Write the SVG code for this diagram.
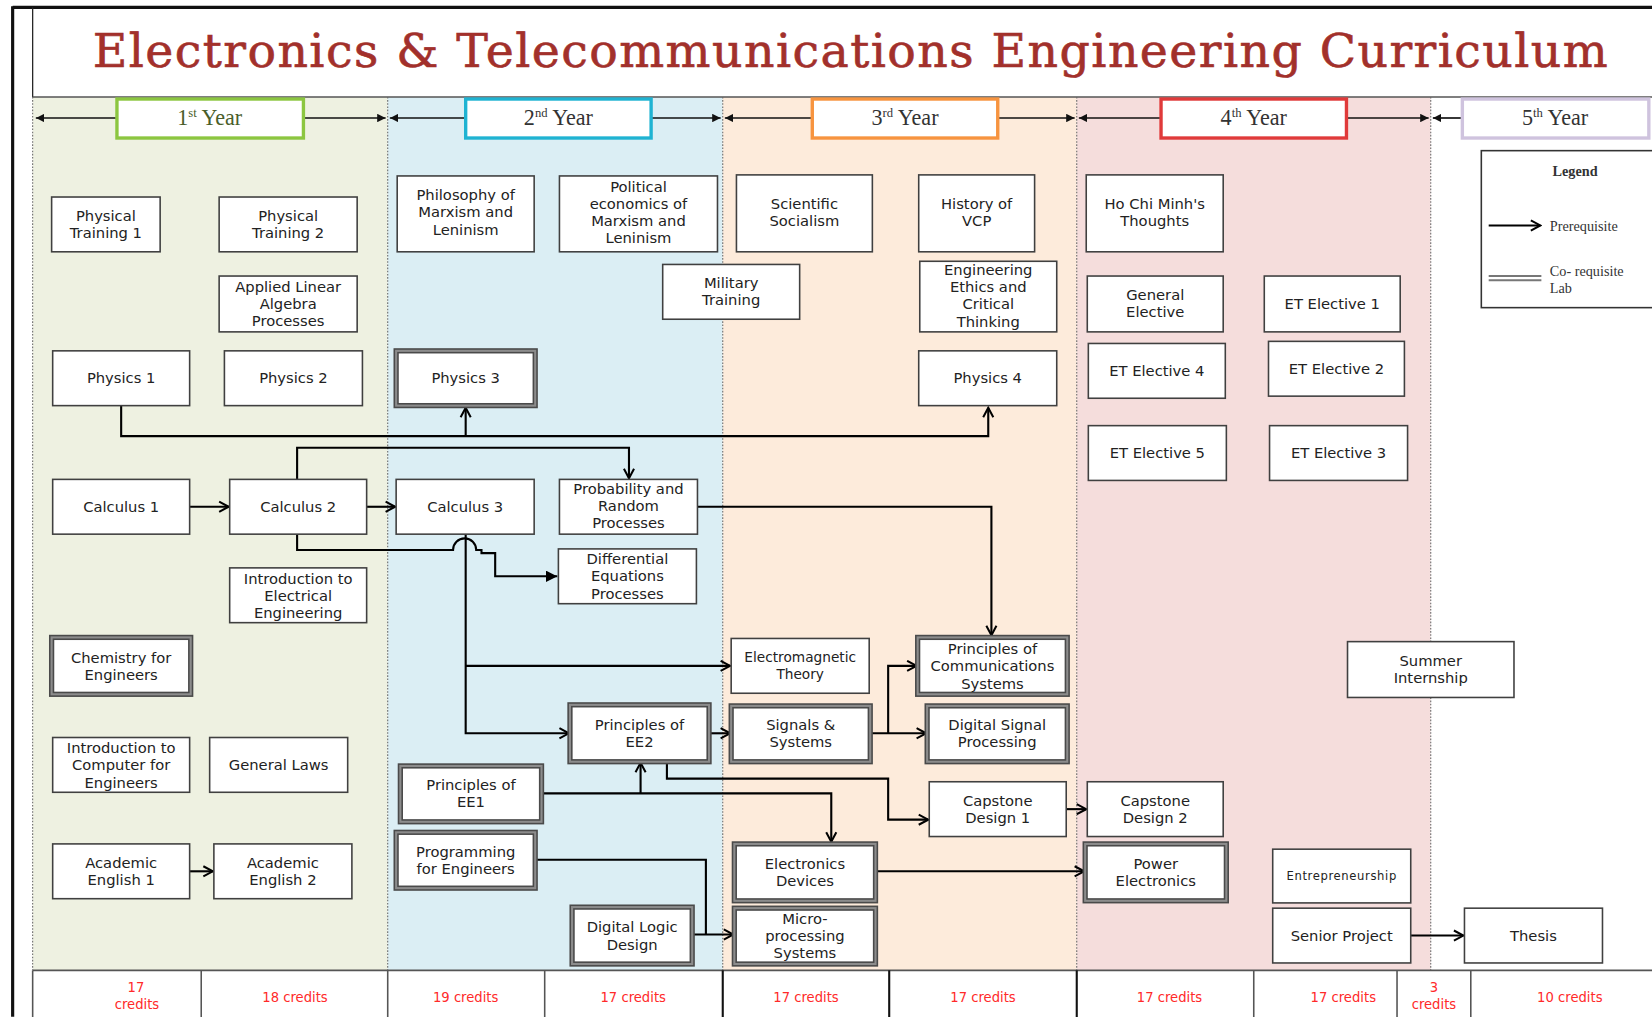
<svg xmlns="http://www.w3.org/2000/svg" width="1652" height="1017" viewBox="0 0 1652 1017">
  <style>
    .node rect { fill: #ffffff; stroke: #404040; stroke-width: 1.5; }
    .lab rect.o { fill: #ffffff; stroke: #4a4a4a; stroke-width: 5; }
    .lab rect.i { fill: none; stroke: #8c8c8c; stroke-width: 2; }
    .node text, .lab text { font-family: "DejaVu Sans", Verdana, sans-serif; font-size: 14px; fill: #222; text-anchor: middle; }
    .conn path { fill: none; stroke: #000; stroke-width: 2; }
    .hdr path { fill: none; stroke: #111; stroke-width: 1.6; }
    .yearbox { fill: #ffffff; stroke-width: 3.2; }
    .yeartxt { font-family: "Liberation Serif", "Times New Roman", serif; font-size: 21px; fill: #333; text-anchor: middle; }
    .sup { font-size: 12px; }
    .sep { stroke: #666; stroke-width: 1; stroke-dasharray: 1.5 1.5; }
    .cr { font-family: "DejaVu Sans", Verdana, sans-serif; font-size: 12.5px; fill: #ff2a2a; text-anchor: middle; }
    .crline { stroke: #555; stroke-width: 1.5; }
    .crline.k { stroke: #111; stroke-width: 2; }
    .leg { font-family: "Liberation Serif", "Times New Roman", serif; font-size: 13.5px; fill: #333; }
  </style>
  <defs>
    <marker id="open" viewBox="0 0 10 10" refX="9" refY="5" markerWidth="6" markerHeight="6" orient="auto">
      <path d="M1.5,1 L9,5 L1.5,9" fill="none" stroke="#000" stroke-width="1.6"/>
    </marker>
    <marker id="fill" viewBox="0 0 10 10" refX="10" refY="5" markerWidth="5.5" markerHeight="5.5" orient="auto">
      <path d="M0,0 L10,5 L0,10 z" fill="#000"/>
    </marker>
    <marker id="tri" viewBox="0 0 10 10" refX="10" refY="5" markerWidth="5" markerHeight="5" orient="auto">
      <path d="M0,0 L10,5 L0,10 z" fill="#111"/>
    </marker>
  </defs>

  <g transform="scale(1.05357)">
    <!-- year column backgrounds -->
    <rect x="31" y="92" width="337" height="829" fill="#eef1e1"/>
    <rect x="368" y="92" width="318" height="829" fill="#dbeef4"/>
    <rect x="686" y="92" width="336" height="829" fill="#fdebdb"/>
    <rect x="1022" y="92" width="336" height="829" fill="#f5dddc"/>
    <rect x="1358" y="92" width="210" height="829" fill="#ffffff"/>

    <!-- frame and title area -->
    <line x1="12" y1="7" x2="1568" y2="7" stroke="#111" stroke-width="3"/>
    <line x1="12" y1="6" x2="12" y2="965" stroke="#111" stroke-width="3"/>
    <line x1="31" y1="7" x2="31" y2="92" stroke="#222" stroke-width="1.2"/>
    <line x1="31" y1="92" x2="1568" y2="92" stroke="#555" stroke-width="1.5"/>
    <text x="88" y="64" textLength="1438" lengthAdjust="spacing" font-family="DejaVu Serif, 'Liberation Serif', serif" font-size="45" fill="#a2302b" stroke="#a2302b" stroke-width="0.6">Electronics &amp; Telecommunications Engineering Curriculum</text>

    <!-- column separators -->
    <line class="sep" x1="31" y1="92" x2="31" y2="921"/>
    <line class="sep" x1="368" y1="92" x2="368" y2="921"/>
    <line class="sep" x1="686" y1="92" x2="686" y2="921"/>
    <line class="sep" x1="1022" y1="92" x2="1022" y2="921"/>
    <line class="sep" x1="1358" y1="92" x2="1358" y2="921"/>

    <!-- year headers -->
    <g id="year-headers">
      <g class="hdr">
        <path d="M110,112 H34" marker-end="url(#tri)"/>
        <path d="M288,112 H366" marker-end="url(#tri)"/>
        <path d="M441,112 H370" marker-end="url(#tri)"/>
        <path d="M618,112 H684" marker-end="url(#tri)"/>
        <path d="M770,112 H688" marker-end="url(#tri)"/>
        <path d="M947,112 H1020" marker-end="url(#tri)"/>
        <path d="M1101,112 H1024" marker-end="url(#tri)"/>
        <path d="M1278,112 H1356" marker-end="url(#tri)"/>
        <path d="M1387,112 H1360" marker-end="url(#tri)"/>
      </g>
      <rect class="yearbox" x="111" y="94" width="177" height="37" stroke="#8cc640"/>
      <text class="yeartxt" x="199" y="119" style="fill:#4a5e2a">1<tspan class="sup" dy="-8">st</tspan><tspan dy="8"> Year</tspan></text>
      <rect class="yearbox" x="442" y="94" width="176" height="37" stroke="#1fb3d2"/>
      <text class="yeartxt" x="530" y="119">2<tspan class="sup" dy="-8">nd</tspan><tspan dy="8"> Year</tspan></text>
      <rect class="yearbox" x="771" y="94" width="176" height="37" stroke="#f7943f"/>
      <text class="yeartxt" x="859" y="119">3<tspan class="sup" dy="-8">rd</tspan><tspan dy="8"> Year</tspan></text>
      <rect class="yearbox" x="1102" y="94" width="176" height="37" stroke="#e03a3a"/>
      <text class="yeartxt" x="1190" y="119">4<tspan class="sup" dy="-8">th</tspan><tspan dy="8"> Year</tspan></text>
      <rect class="yearbox" x="1388" y="94" width="177" height="37" stroke="#cfc3de"/>
      <text class="yeartxt" x="1476" y="119">5<tspan class="sup" dy="-8">th</tspan><tspan dy="8"> Year</tspan></text>
    </g>

    <!-- legend -->
    <g id="legend">
      <rect x="1406" y="143" width="175" height="149" fill="#fff" stroke="#333" stroke-width="1.5"/>
      <text class="leg" x="1495" y="167" text-anchor="middle" font-weight="bold">Legend</text>
      <path d="M1413,214 H1462" stroke="#000" stroke-width="2" fill="none" marker-end="url(#open)"/>
      <text class="leg" x="1471" y="219">Prerequisite</text>
      <line x1="1413" y1="262" x2="1463" y2="262" stroke="#777" stroke-width="2"/>
      <line x1="1413" y1="266" x2="1463" y2="266" stroke="#777" stroke-width="2"/>
      <text class="leg" x="1471" y="262">Co- requisite</text>
      <text class="leg" x="1471" y="278">Lab</text>
    </g>

    <!-- credits row -->
    <g id="credits">
      <rect x="31" y="921" width="1537" height="50" fill="#fff"/>
      <line class="crline" x1="31" y1="921" x2="1568" y2="921"/>
      <line class="crline" x1="31" y1="921" x2="31" y2="970"/>
      <line class="crline" x1="191" y1="921" x2="191" y2="970"/>
      <line class="crline" x1="368" y1="921" x2="368" y2="970"/>
      <line class="crline" x1="517" y1="921" x2="517" y2="970"/>
      <line class="crline k" x1="686" y1="921" x2="686" y2="970"/>
      <line class="crline k" x1="844" y1="921" x2="844" y2="970"/>
      <line class="crline k" x1="1022" y1="921" x2="1022" y2="970"/>
      <line class="crline" x1="1190" y1="921" x2="1190" y2="970"/>
      <line class="crline" x1="1326" y1="921" x2="1326" y2="970"/>
      <line class="crline" x1="1396" y1="921" x2="1396" y2="970"/>
      <text class="cr" x="129" y="942">17</text>
      <text class="cr" x="130" y="958">credits</text>
      <text class="cr" x="280" y="951">18 credits</text>
      <text class="cr" x="442" y="951">19 credits</text>
      <text class="cr" x="601" y="951">17 credits</text>
      <text class="cr" x="765" y="951">17 credits</text>
      <text class="cr" x="933" y="951">17 credits</text>
      <text class="cr" x="1110" y="951">17 credits</text>
      <text class="cr" x="1275" y="951">17 credits</text>
      <text class="cr" x="1361" y="942">3</text>
      <text class="cr" x="1361" y="958">credits</text>
      <text class="cr" x="1490" y="951">10 credits</text>
    </g>

    <!-- prerequisite connectors -->
    <g id="connectors" class="conn">
      <path d="M115,385 V414 H938 V387" marker-end="url(#open)"/>
      <path d="M442,414 V387" marker-end="url(#open)"/>
      <path d="M282,455 V425 H597 V454" marker-end="url(#open)"/>
      <path d="M180,481 H217" marker-end="url(#open)"/>
      <path d="M348,481 H375" marker-end="url(#open)"/>
      <path d="M282,507 V522 H430 A11,11 0 0 1 452,522 H457 V525 H470 V547 H529" marker-end="url(#fill)"/>
      <path d="M442,507 V696 H540" marker-end="url(#open)"/>
      <path d="M442,632 H693" marker-end="url(#open)"/>
      <path d="M662,481 H941 V603" marker-end="url(#open)"/>
      <path d="M673,696 H693" marker-end="url(#open)"/>
      <path d="M826,696 H879" marker-end="url(#open)"/>
      <path d="M843,696 V632 H870" marker-end="url(#open)"/>
      <path d="M633,723 V739 H843 V778 H881" marker-end="url(#open)"/>
      <path d="M514,753 H789 V799" marker-end="url(#open)"/>
      <path d="M608,753 V724" marker-end="url(#open)"/>
      <path d="M508,816 H670 V887"/>
      <path d="M657,887 H696" marker-end="url(#open)"/>
      <path d="M831,827 H1029" marker-end="url(#open)"/>
      <path d="M1012,768 H1031" marker-end="url(#open)"/>
      <path d="M1339,888 H1389" marker-end="url(#open)"/>
      <path d="M180,827 H202" marker-end="url(#open)"/>
    </g>

    <!-- 1st year courses -->
    <g id="physical-training-1" class="node"><rect x="49" y="187" width="103" height="52"/><text x="100.5" y="210">Physical<tspan x="100.5" dy="16.3">Training 1</tspan></text></g>
    <g id="physical-training-2" class="node"><rect x="208" y="187" width="131" height="52"/><text x="273.5" y="210">Physical<tspan x="273.5" dy="16.3">Training 2</tspan></text></g>
    <g id="applied-linear-algebra" class="node"><rect x="208" y="262" width="131" height="53"/><text x="273.5" y="277">Applied Linear<tspan x="273.5" dy="16.3">Algebra</tspan><tspan x="273.5" dy="16.3">Processes</tspan></text></g>
    <g id="physics-1" class="node"><rect x="50" y="333" width="130" height="52"/><text x="115" y="364">Physics 1</text></g>
    <g id="physics-2" class="node"><rect x="213" y="333" width="131" height="52"/><text x="278.5" y="364">Physics 2</text></g>
    <g id="calculus-1" class="node"><rect x="50" y="455" width="130" height="52"/><text x="115" y="486">Calculus 1</text></g>
    <g id="calculus-2" class="node"><rect x="218" y="455" width="130" height="52"/><text x="283" y="486">Calculus 2</text></g>
    <g id="intro-electrical" class="node"><rect x="218" y="539" width="130" height="52"/><text x="283" y="554">Introduction to<tspan x="283" dy="16.3">Electrical</tspan><tspan x="283" dy="16.3">Engineering</tspan></text></g>
    <g id="chemistry" class="lab"><rect class="o" x="49" y="605" width="132" height="54"/><rect class="i" x="49" y="605" width="132" height="54"/><text x="115" y="629">Chemistry for<tspan x="115" dy="16.3">Engineers</tspan></text></g>
    <g id="intro-computer" class="node"><rect x="50" y="700" width="130" height="52"/><text x="115" y="715">Introduction to<tspan x="115" dy="16.3">Computer for</tspan><tspan x="115" dy="16.3">Engineers</tspan></text></g>
    <g id="general-laws" class="node"><rect x="199" y="700" width="131" height="52"/><text x="264.5" y="731">General Laws</text></g>
    <g id="academic-english-1" class="node"><rect x="50" y="801" width="130" height="52"/><text x="115" y="824">Academic<tspan x="115" dy="16.3">English 1</tspan></text></g>
    <g id="academic-english-2" class="node"><rect x="203" y="801" width="131" height="52"/><text x="268.5" y="824">Academic<tspan x="268.5" dy="16.3">English 2</tspan></text></g>

    <!-- 2nd year courses -->
    <g id="philosophy" class="node"><rect x="377" y="167" width="130" height="72"/><text x="442" y="190">Philosophy of<tspan x="442" dy="16.3">Marxism and</tspan><tspan x="442" dy="16.3">Leninism</tspan></text></g>
    <g id="political-economics" class="node"><rect x="531" y="167" width="150" height="72"/><text x="606" y="182">Political<tspan x="606" dy="16.3">economics of</tspan><tspan x="606" dy="16.3">Marxism and</tspan><tspan x="606" dy="16.3">Leninism</tspan></text></g>
    <g id="military-training" class="node"><rect x="629" y="251" width="130" height="52"/><text x="694" y="273">Military<tspan x="694" dy="16.3">Training</tspan></text></g>
    <g id="physics-3" class="lab"><rect class="o" x="376" y="333" width="132" height="52"/><rect class="i" x="376" y="333" width="132" height="52"/><text x="442" y="364">Physics 3</text></g>
    <g id="calculus-3" class="node"><rect x="376" y="455" width="131" height="52"/><text x="441.5" y="486">Calculus 3</text></g>
    <g id="probability" class="node"><rect x="531" y="455" width="131" height="52"/><text x="596.5" y="469">Probability and<tspan x="596.5" dy="16.3">Random</tspan><tspan x="596.5" dy="16.3">Processes</tspan></text></g>
    <g id="differential-equations" class="node"><rect x="530" y="521" width="131" height="52"/><text x="595.5" y="535.5">Differential<tspan x="595.5" dy="16.3">Equations</tspan><tspan x="595.5" dy="16.3">Processes</tspan></text></g>
    <g id="principles-ee2" class="lab"><rect class="o" x="541" y="669" width="132" height="54"/><rect class="i" x="541" y="669" width="132" height="54"/><text x="607" y="693">Principles of<tspan x="607" dy="16.3">EE2</tspan></text></g>
    <g id="principles-ee1" class="lab"><rect class="o" x="380" y="727" width="134" height="53"/><rect class="i" x="380" y="727" width="134" height="53"/><text x="447" y="750">Principles of<tspan x="447" dy="16.3">EE1</tspan></text></g>
    <g id="programming" class="lab"><rect class="o" x="376" y="790" width="132" height="53"/><rect class="i" x="376" y="790" width="132" height="53"/><text x="442" y="813">Programming<tspan x="442" dy="16.3">for Engineers</tspan></text></g>
    <g id="digital-logic" class="lab"><rect class="o" x="543" y="861" width="114" height="54"/><rect class="i" x="543" y="861" width="114" height="54"/><text x="600" y="885">Digital Logic<tspan x="600" dy="16.3">Design</tspan></text></g>

    <!-- 3rd year courses -->
    <g id="scientific-socialism" class="node"><rect x="699" y="166" width="129" height="73"/><text x="763.5" y="198">Scientific<tspan x="763.5" dy="16.3">Socialism</tspan></text></g>
    <g id="history-vcp" class="node"><rect x="872" y="166" width="110" height="73"/><text x="927" y="198">History of<tspan x="927" dy="16.3">VCP</tspan></text></g>
    <g id="engineering-ethics" class="node"><rect x="873" y="248" width="130" height="67"/><text x="938" y="261">Engineering<tspan x="938" dy="16.3">Ethics and</tspan><tspan x="938" dy="16.3">Critical</tspan><tspan x="938" dy="16.3">Thinking</tspan></text></g>
    <g id="physics-4" class="node"><rect x="872" y="333" width="131" height="52"/><text x="937.5" y="364">Physics 4</text></g>
    <g id="electromagnetic-theory" class="node"><rect x="694" y="606" width="131" height="52"/><text x="759.5" y="628.5" style="font-size:13px">Electromagnetic<tspan x="759.5" dy="16">Theory</tspan></text></g>
    <g id="principles-communications" class="lab"><rect class="o" x="871" y="605" width="142" height="54"/><rect class="i" x="871" y="605" width="142" height="54"/><text x="942" y="621">Principles of<tspan x="942" dy="16.3">Communications</tspan><tspan x="942" dy="16.3">Systems</tspan></text></g>
    <g id="signals-systems" class="lab"><rect class="o" x="694" y="670" width="132" height="53"/><rect class="i" x="694" y="670" width="132" height="53"/><text x="760" y="693">Signals &amp;<tspan x="760" dy="16.3">Systems</tspan></text></g>
    <g id="digital-signal-processing" class="lab"><rect class="o" x="880" y="670" width="133" height="53"/><rect class="i" x="880" y="670" width="133" height="53"/><text x="946.5" y="693">Digital Signal<tspan x="946.5" dy="16.3">Processing</tspan></text></g>
    <g id="capstone-1" class="node"><rect x="882" y="742" width="130" height="52"/><text x="947" y="765">Capstone<tspan x="947" dy="16.3">Design 1</tspan></text></g>
    <g id="electronics-devices" class="lab"><rect class="o" x="697" y="801" width="134" height="54"/><rect class="i" x="697" y="801" width="134" height="54"/><text x="764" y="825">Electronics<tspan x="764" dy="16.3">Devices</tspan></text></g>
    <g id="microprocessing" class="lab"><rect class="o" x="697" y="862" width="134" height="53"/><rect class="i" x="697" y="862" width="134" height="53"/><text x="764" y="877">Micro-<tspan x="764" dy="16.3">processing</tspan><tspan x="764" dy="16.3">Systems</tspan></text></g>

    <!-- 4th year courses -->
    <g id="ho-chi-minh" class="node"><rect x="1031" y="166" width="130" height="73"/><text x="1096" y="198">Ho Chi Minh's<tspan x="1096" dy="16.3">Thoughts</tspan></text></g>
    <g id="general-elective" class="node"><rect x="1032" y="262" width="129" height="53"/><text x="1096.5" y="285">General<tspan x="1096.5" dy="16.3">Elective</tspan></text></g>
    <g id="et-elective-1" class="node"><rect x="1200" y="262" width="129" height="53"/><text x="1264.5" y="293">ET Elective 1</text></g>
    <g id="et-elective-4" class="node"><rect x="1033" y="326" width="130" height="52"/><text x="1098" y="357">ET Elective 4</text></g>
    <g id="et-elective-2" class="node"><rect x="1204" y="324" width="129" height="52"/><text x="1268.5" y="355">ET Elective 2</text></g>
    <g id="et-elective-5" class="node"><rect x="1033" y="404" width="131" height="52"/><text x="1098.5" y="435">ET Elective 5</text></g>
    <g id="et-elective-3" class="node"><rect x="1205" y="404" width="131" height="52"/><text x="1270.5" y="435">ET Elective 3</text></g>
    <g id="capstone-2" class="node"><rect x="1032" y="742" width="129" height="52"/><text x="1096.5" y="765">Capstone<tspan x="1096.5" dy="16.3">Design 2</tspan></text></g>
    <g id="power-electronics" class="lab"><rect class="o" x="1030" y="801" width="134" height="54"/><rect class="i" x="1030" y="801" width="134" height="54"/><text x="1097" y="825">Power<tspan x="1097" dy="16.3">Electronics</tspan></text></g>
    <g id="entrepreneurship" class="node"><rect x="1208" y="806" width="131" height="51"/><text x="1273.5" y="835.5" style="font-size:11px;letter-spacing:0.6px">Entrepreneurship</text></g>
    <g id="senior-project" class="node"><rect x="1208" y="862" width="131" height="52"/><text x="1273.5" y="893">Senior Project</text></g>
    <g id="summer-internship" class="node"><rect x="1279" y="609" width="158" height="53"/><text x="1358" y="632">Summer<tspan x="1358" dy="16.3">Internship</tspan></text></g>

    <!-- 5th year -->
    <g id="thesis" class="node"><rect x="1390" y="862" width="131" height="52"/><text x="1455.5" y="893">Thesis</text></g>
  </g>
</svg>
